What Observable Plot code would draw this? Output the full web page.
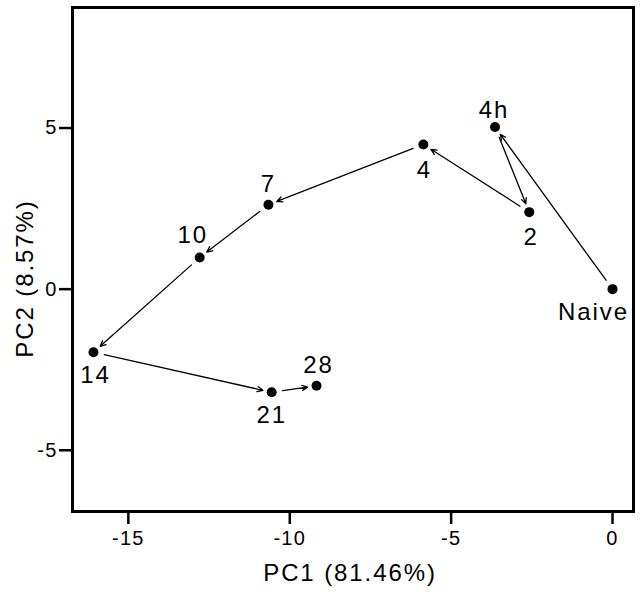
<!DOCTYPE html>
<html>
<head>
<meta charset="utf-8">
<script src="https://cdn.jsdelivr.net/npm/d3@7"></script>
<script src="https://cdn.jsdelivr.net/npm/@observablehq/plot@0.6"></script>
<style>
  html, body { margin: 0; padding: 0; background: #fff; }
  #chart svg { display: block; }
  #chart g[aria-label="text"] text { letter-spacing: 1.9px; }
  #chart g[aria-label="x-axis tick label"] text,
  #chart g[aria-label="y-axis tick label"] text { letter-spacing: 1.2px; }
</style>
</head>
<body>
<div id="chart"></div>
<script>
// Data (in trajectory order)
const labels = ["Naive", "4h", "2", "4", "7", "10", "14", "21", "28"];
const pc1 = [0, -3.64, -2.58, -5.86, -10.66, -12.79, -16.08, -10.56, -9.17];
const pc2 = [0, 5.03, 2.39, 4.49, 2.62, 0.98, -1.96, -3.20, -3.00];
const xTicks = [-15, -10, -5, 0];
const yTicks = [-5, 0, 5];
const xTitle = "PC1 (81.46%)";
const yTitle = "PC2 (8.57%)";

const points = labels.map((l, i) => ({label: l, x: pc1[i], y: pc2[i]}));
const segments = points.slice(1).map((p, i) => ({
  x1: points[i].x, y1: points[i].y, x2: p.x, y2: p.y
}));

// label placement (layout, pixels)
const labelOffset = {
  "Naive": [-19, 23], "4h": [-1, -17], "2": [2, 25], "4": [1, 26],
  "7": [0, -20], "10": [-7, -22], "14": [2, 23], "21": [0, 23], "28": [2, -21]
};

const font = "Liberation Sans, Arial, Helvetica, sans-serif";

const chart = Plot.plot({
  width: 641,
  height: 595,
  marginLeft: 72,
  marginRight: 8,
  marginTop: 7,
  marginBottom: 84,
  style: {fontFamily: font, background: "#fff", color: "#000"},
  x: {domain: [-16.73, 0.65]},
  y: {domain: [-6.9, 8.74]},
  marks: [
    Plot.axisX({ticks: xTicks, tickFormat: d => String(d), tickSize: 13, tickPadding: 6,
      strokeWidth: 2.5, fontSize: 20, label: null}),
    Plot.axisY({ticks: yTicks, tickFormat: d => String(d), tickSize: 13, tickPadding: 2,
      strokeWidth: 2.5, fontSize: 20, label: null}),
    Plot.frame({stroke: "#000", strokeWidth: 3}),
    Plot.arrow(segments, {x1: "x1", y1: "y1", x2: "x2", y2: "y2",
      insetStart: 11, insetEnd: 9, headLength: 7, headAngle: 50,
      stroke: "#000", strokeWidth: 1.3}),
    Plot.dot(points, {x: "x", y: "y", r: 5, fill: "#000", stroke: null}),
    ...points.map(p => Plot.text([p], {x: "x", y: "y", text: "label",
      dx: labelOffset[p.label][0], dy: labelOffset[p.label][1],
      fontSize: 24, fill: "#000"})),
    Plot.text([xTitle], {frameAnchor: "bottom", textAnchor: "middle", lineAnchor: "middle",
      dx: -3, dy: 62, fontSize: 24, fill: "#000"}),
    Plot.text([yTitle], {frameAnchor: "left", textAnchor: "middle", lineAnchor: "middle",
      rotate: -90, dx: -47, dy: 19, fontSize: 24, fill: "#000"})
  ]
});
document.getElementById("chart").appendChild(chart);
</script>
</body>
</html>
